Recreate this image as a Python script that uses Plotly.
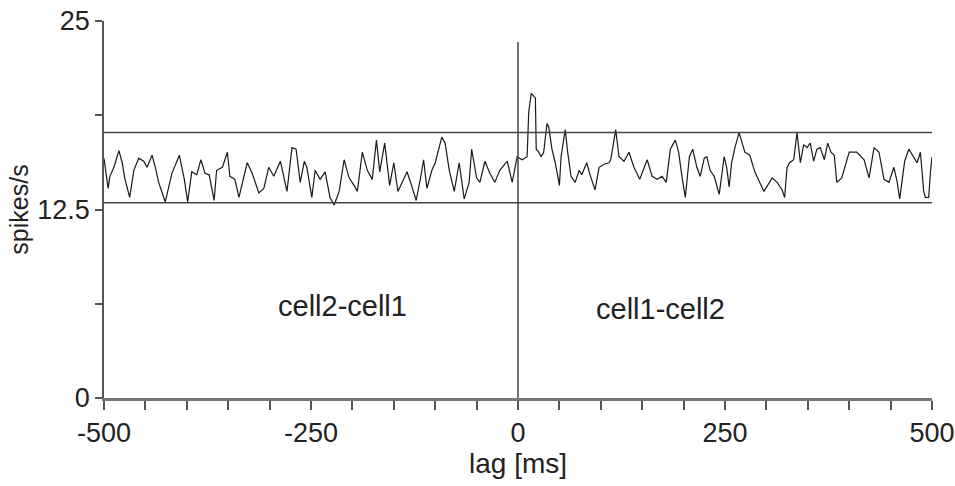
import plotly.graph_objects as go

# lag (ms) and firing rate (spikes/s)
lag = [-500, -495, -493, -488, -482, -478, -475, -469, -464, -458, -452, -448, -442, -438, -434,
       -426, -418, -409, -403, -399, -394, -388, -383, -378, -373, -367, -364, -357, -351, -348,
       -342, -337, -327, -321, -313, -307, -301, -295, -287, -283, -279, -273, -268, -263, -258,
       -255, -249, -245, -239, -233, -227, -222, -216, -210, -204, -198, -194, -188, -182, -176,
       -171, -167, -161, -155, -150, -145, -138, -134, -128, -123, -118, -114, -110, -104, -100,
       -92, -88, -83, -77, -71, -65, -59, -56, -50, -46, -40, -34, -28, -22, -13,
       -7, -1, 5, 11, 13, 16, 21, 22, 25, 28, 31, 35, 37, 41, 45,
       50, 52, 57, 60, 64, 69, 74, 77, 83, 87, 93, 98, 104, 110, 112,
       118, 122, 128, 134, 140, 147, 156, 162, 168, 174, 179, 184, 190, 194, 198,
       202, 207, 211, 216, 220, 225, 228, 232, 237, 243, 249, 252, 255, 258, 262,
       267, 271, 274, 280, 286, 297, 307, 313, 319, 322, 325, 328, 333, 337, 341,
       345, 349, 353, 357, 361, 365, 370, 374, 378, 382, 385, 391, 400, 409, 418,
       424, 430, 436, 442, 448, 454, 458, 461, 467, 472, 478, 482, 486, 490, 492,
       496, 498, 500]
rate = [15.9, 13.9, 14.7, 15.3, 16.4, 15.6, 14.6, 13.3, 15.1, 15.9, 15.7, 15.3, 16.1, 15.3, 14.3,
        13.0, 14.9, 16.1, 14.5, 13.0, 15.0, 14.8, 15.8, 14.9, 14.8, 13.1, 15.1, 15.3, 16.3, 14.7,
        14.5, 13.3, 15.6, 14.9, 13.6, 13.9, 15.3, 14.7, 15.7, 14.6, 13.7, 16.6, 16.5, 14.3, 15.7,
        15.3, 13.3, 15.1, 14.5, 15.0, 13.3, 12.8, 13.7, 15.8, 14.6, 14.1, 13.7, 16.3, 15.1, 14.5,
        17.1, 15.0, 16.9, 14.1, 15.6, 13.7, 14.5, 15.0, 14.0, 13.1, 14.5, 15.8, 13.9, 15.1, 15.6,
        17.3, 16.9, 15.1, 13.7, 15.6, 13.2, 14.3, 16.5, 14.6, 14.3, 15.7, 14.9, 14.3, 15.1, 15.7,
        14.3, 16.0, 15.8, 16.0, 19.0, 20.2, 19.9, 16.5, 16.3, 16.0, 16.3, 18.2, 18.0, 16.5, 15.6,
        14.1, 16.0, 17.8, 16.3, 14.7, 14.3, 15.1, 14.8, 15.6, 14.8, 13.8, 15.3, 15.5, 15.6, 15.8,
        17.8, 16.0, 15.7, 16.3, 15.3, 14.5, 15.8, 14.7, 14.5, 14.7, 14.3, 16.5, 17.1, 16.3, 14.7,
        13.3, 16.0, 16.5, 15.3, 14.7, 15.9, 16.0, 15.1, 14.7, 13.5, 16.0, 15.3, 14.0, 15.6, 16.6,
        17.6, 16.9, 16.3, 16.1, 15.0, 13.7, 14.6, 14.3, 13.8, 13.3, 15.3, 15.6, 15.8, 17.6, 15.6,
        16.8, 16.6, 16.9, 15.7, 16.5, 16.6, 15.8, 16.9, 16.3, 16.1, 14.3, 14.6, 16.3, 16.3, 15.8,
        14.6, 16.6, 16.3, 14.5, 14.3, 15.3, 14.3, 13.2, 15.7, 16.5, 16.0, 15.6, 16.3, 13.7, 13.3,
        13.3, 14.9, 16.0]

upper_limit = 17.6
lower_limit = 12.95
zero_line_top = 23.6

x_tick_vals = list(range(-500, 501, 50))
x_tick_text = [str(v) if v % 250 == 0 else "" for v in x_tick_vals]
y_tick_vals = [0, 6.25, 12.5, 18.75, 25]
y_tick_text = ["0", "", "12.5", "", "25"]

region_labels = ["cell2-cell1", "cell1-cell2"]
region_x = [-212, 172]
region_y = [6.1, 5.9]

FONT = "Liberation Sans, Arial, sans-serif"
INK = "#222222"

fig = go.Figure()

fig.add_trace(go.Scatter(x=lag, y=rate, mode="lines",
                         line=dict(color="#1a1a1a", width=1.2), hoverinfo="skip"))
fig.add_trace(go.Scatter(x=[-500, 500], y=[upper_limit, upper_limit], mode="lines",
                         line=dict(color="#444444", width=1.5), hoverinfo="skip"))
fig.add_trace(go.Scatter(x=[-500, 500], y=[lower_limit, lower_limit], mode="lines",
                         line=dict(color="#444444", width=1.5), hoverinfo="skip"))
fig.add_trace(go.Scatter(x=[0, 0], y=[0, zero_line_top], mode="lines",
                         line=dict(color="#444444", width=1.5), hoverinfo="skip"))

for t, xv, yv in zip(region_labels, region_x, region_y):
    fig.add_annotation(x=xv, y=yv, text=t, showarrow=False,
                       font=dict(family=FONT, size=29, color=INK))

fig.update_layout(
    width=955, height=486,
    margin=dict(l=104, r=23, t=21, b=88),
    paper_bgcolor="white", plot_bgcolor="white",
    showlegend=False,
    font=dict(family=FONT, size=27, color=INK),
    xaxis=dict(range=[-500, 500], tickvals=x_tick_vals, ticktext=x_tick_text,
               ticks="outside", ticklen=9, tickwidth=1.5, tickcolor="#555555",
               showline=True, linecolor="#777777", linewidth=2.5,
               showgrid=False, zeroline=False, automargin=False,
               tickfont=dict(family=FONT, size=27, color=INK),
               title=dict(text="lag [ms]", font=dict(family=FONT, size=28, color=INK), standoff=6)),
    yaxis=dict(range=[0, 25], tickvals=y_tick_vals, ticktext=y_tick_text,
               ticks="outside", ticklen=7, tickwidth=1.5, tickcolor="#555555",
               showline=True, linecolor="#555555", linewidth=1.5,
               showgrid=False, zeroline=False, automargin=False,
               tickfont=dict(family=FONT, size=27, color=INK),
               title=dict(text="spikes/s", font=dict(family=FONT, size=25, color=INK), standoff=2)),
)

fig.write_html("out.html")
